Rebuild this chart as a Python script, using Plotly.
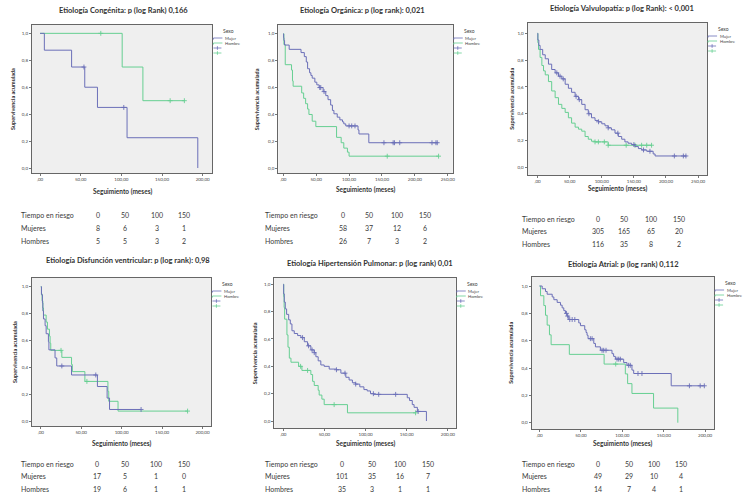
import numpy as np
import plotly.graph_objects as go

W, H = 750, 500
BLUE = "#6b6fb8"
GREEN = "#66cf92"
TXT = "#333333"
FONT = "Lato"

# ---------------- data ----------------
# 1. Congénita
cong_m_t = [0, 5.3, 38.8, 55, 70.6, 107, 194]
cong_m_s = [1.0, 0.875, 0.75, 0.6, 0.45, 0.225, 0.0]
cong_m_c = [54, 103]
cong_h_t = [0, 101, 126.5, 177.5]
cong_h_s = [1.0, 0.75, 0.5, 0.5]
cong_h_c = [74.7, 160, 177.5]

# 2. Orgánica
org_m_t = [0, 0.5, 1, 2, 9, 27, 32, 35, 37, 40, 42, 44, 48, 51, 54.5, 60.6, 64.6, 68, 72,
           74.7, 77, 82, 86, 90, 92, 95, 113.6, 115, 130, 234]
org_m_s = [1.0, 0.97, 0.95, 0.916, 0.884, 0.86, 0.83, 0.79, 0.74, 0.71, 0.69, 0.67, 0.64, 0.62,
           0.60, 0.57, 0.54, 0.51, 0.47, 0.43, 0.405, 0.38, 0.36, 0.345, 0.33, 0.315, 0.285,
           0.255, 0.19, 0.19]
org_m_c = [55.5, 57, 62, 100, 104, 109, 153, 167, 169, 177, 226, 232, 234]
org_h_t = [0, 1, 3, 12.6, 14, 15, 28, 31, 34, 37, 39, 44, 49.5, 81, 88, 92, 97.5, 100, 236]
org_h_s = [1.0, 0.92, 0.77, 0.73, 0.65, 0.61, 0.56, 0.52, 0.48, 0.44, 0.40, 0.35, 0.31, 0.23,
           0.19, 0.15, 0.12, 0.09, 0.09]
org_h_c = [158, 236]

# 3. Valvulopatía
val_m_t = [0, 0.5, 2, 4, 8, 12, 17, 22, 27.4, 32.6, 37.8, 43, 48, 53, 58.5, 63.7, 68.8, 74, 79,
           84, 89.5, 94.7, 100, 105, 110, 115, 120.6, 125.8, 131, 136, 141, 146.5, 151.7, 157,
           162, 170, 180, 183, 232]
val_m_s = [1.0, 0.95, 0.91, 0.88, 0.84, 0.81, 0.77, 0.73, 0.705, 0.68, 0.66, 0.62, 0.59, 0.56,
           0.53, 0.505, 0.47, 0.43, 0.40, 0.37, 0.35, 0.34, 0.325, 0.31, 0.295, 0.28, 0.255,
           0.23, 0.21, 0.19, 0.18, 0.17, 0.155, 0.14, 0.13, 0.12, 0.10, 0.085, 0.085]
val_m_c = [30, 35, 40, 60, 65, 80, 95, 110, 125, 150, 165, 175, 213, 227, 231]
val_h_t = [0, 0.5, 1.5, 4, 6.7, 9.3, 12, 17, 22, 27.4, 32.6, 37.8, 43, 48, 53, 58.5, 63.7,
           68.8, 74, 79, 84, 89.5, 110, 177.5]
val_h_s = [1.0, 0.93, 0.88, 0.82, 0.76, 0.72, 0.69, 0.64, 0.57, 0.52, 0.47, 0.44, 0.41, 0.37,
           0.33, 0.30, 0.285, 0.27, 0.23, 0.21, 0.195, 0.19, 0.165, 0.165]
val_h_c = [89.5, 94.7, 104, 110, 138, 151.7, 162, 170, 177.5]

# 4. Disfunción ventricular
dis_m_t = [0, 0.8, 2, 2.5, 3.3, 5.3, 6.6, 9.4, 10, 17.6, 19.7, 38, 70, 82, 85, 124]
dis_m_s = [1.0, 0.94, 0.88, 0.82, 0.76, 0.71, 0.65, 0.59, 0.53, 0.47, 0.41, 0.343, 0.257,
           0.171, 0.086, 0.086]
dis_m_c = [26, 68, 124]
dis_h_t = [0, 0.8, 1.6, 2.5, 3.3, 6.6, 8.2, 10.7, 11.5, 12.3, 26, 38, 39, 54.5, 83, 84, 95.5,
           181.5]
dis_h_s = [1.0, 0.947, 0.895, 0.842, 0.789, 0.737, 0.684, 0.632, 0.579, 0.526, 0.474, 0.421,
           0.368, 0.295, 0.221, 0.147, 0.074, 0.074]
dis_h_c = [25, 57, 181.5]

# 5. Hipertensión pulmonar
htp_m_t = [0, 0.4, 1.2, 2.4, 4, 6.5, 8.5, 10.5, 13.3, 17.4, 21.4, 25.5, 29.5, 33.5, 37.6,
           39.6, 42.4, 45.6, 49.7, 55.8, 64.6, 70, 76, 80, 84, 88, 93, 98, 102, 106, 110,
           150.7, 153.5, 156.8, 159, 163, 174]
htp_m_s = [1.0, 0.93, 0.87, 0.82, 0.78, 0.74, 0.71, 0.66, 0.64, 0.625, 0.61, 0.58, 0.55,
           0.52, 0.50, 0.47, 0.44, 0.41, 0.40, 0.38, 0.375, 0.35, 0.32, 0.30, 0.28, 0.27, 0.25,
           0.23, 0.22, 0.20, 0.195, 0.17, 0.15, 0.12, 0.10, 0.07, 0.0]
htp_m_c = [23.4, 30.7, 35, 37.6, 64.6, 75, 88, 109.5, 116, 136.6, 164]
htp_h_t = [0, 0.5, 1, 1.6, 4.4, 5.7, 7.3, 9.3, 18.6, 22.6, 33.5, 35.6, 37.6, 42.4, 43.6,
           46.9, 49.7, 78, 160.8]
htp_h_s = [1.0, 0.91, 0.83, 0.745, 0.63, 0.54, 0.46, 0.43, 0.40, 0.37, 0.34, 0.29, 0.26,
           0.225, 0.19, 0.16, 0.12, 0.06, 0.06]
htp_h_c = [21, 29.5, 61.8, 160.8]

# 6. Atrial
atr_m_t = [0, 3.2, 7.2, 9.2, 15.3, 17.3, 21.3, 25.3, 27.3, 29.3, 31.3, 33.3, 35.3, 47.4,
           49.4, 54.6, 56.2, 57.4, 58.6, 65.5, 67.5, 73.5, 87.5, 89.5, 91.6, 101.6, 105.6,
           111.6, 113.7, 159, 199]
atr_m_s = [1.0, 0.98, 0.96, 0.94, 0.92, 0.90, 0.88, 0.86, 0.84, 0.82, 0.80, 0.78, 0.755,
           0.73, 0.71, 0.68, 0.66, 0.64, 0.615, 0.58, 0.555, 0.53, 0.505, 0.485, 0.465, 0.44,
           0.42, 0.385, 0.36, 0.27, 0.27]
atr_m_c = [32.5, 34, 36.5, 39.4, 42.6, 61.4, 63.5, 75.5, 77.5, 80.3, 93.6, 95.6, 97.6,
           107.6, 109.6, 118.9, 123.7, 181, 194, 199]
atr_h_t = [0, 1.2, 5.2, 7.2, 9.2, 12, 14, 36, 78, 103.6, 106.4, 111.6, 137.7, 167]
atr_h_s = [1.0, 0.929, 0.857, 0.786, 0.714, 0.643, 0.571, 0.5, 0.429, 0.357, 0.286, 0.214,
           0.107, 0.0]
atr_h_c = [92]

titles = [
    "Etiología Congénita: p (log Rank) 0,166",
    "Etiología Orgánica: p (log rank): 0,021",
    "Etiología Valvulopatía: p (log Rank): < 0,001",
    "Etiología Disfunción ventricular: p (log rank): 0,98",
    "Etiología Hipertensión Pulmonar: p (log rank) 0,01",
    "Etiología Atrial: p (log rank) 0,112",
]

risk_times = ["0", "50", "100", "150"]
risk_m = [[8, 6, 3, 1], [58, 37, 12, 6], [305, 165, 65, 20],
          [17, 5, 1, 0], [101, 35, 16, 7], [49, 29, 10, 4]]
risk_h = [[5, 5, 3, 2], [26, 7, 3, 2], [116, 35, 8, 2],
          [19, 6, 1, 1], [35, 3, 1, 1], [14, 7, 4, 1]]

y_ticks = [0, 0.2, 0.4, 0.6, 0.8, 1.0]
y_tick_text = ["0,0", "0,2", "0,4", "0,6", "0,8", "1,0"]

curves = [
    (cong_m_t, cong_m_s, cong_m_c, cong_h_t, cong_h_s, cong_h_c),
    (org_m_t, org_m_s, org_m_c, org_h_t, org_h_s, org_h_c),
    (val_m_t, val_m_s, val_m_c, val_h_t, val_h_s, val_h_c),
    (dis_m_t, dis_m_s, dis_m_c, dis_h_t, dis_h_s, dis_h_c),
    (htp_m_t, htp_m_s, htp_m_c, htp_h_t, htp_h_s, htp_h_c),
    (atr_m_t, atr_m_s, atr_m_c, atr_h_t, atr_h_s, atr_h_c),
]

# ---------------- layout geometry (pixels) ----------------
boxes = [(32, 213, 25, 173), (279, 454, 25, 173), (529, 709, 23, 175),
         (32, 212, 278, 426), (275, 457, 278, 428), (533, 716, 277, 429)]
xranges = [(-10, 212), (-7.6, 257.6), (-15.5, 264), (-11, 211), (-11, 209.7), (-9.6, 210.8)]
yranges = [(-0.037, 1.062), (-0.035, 1.065), (-0.057, 1.077), (-0.037, 1.065),
           (-0.051, 1.046), (-0.046, 1.066)]
xmaxes = [200, 250, 250, 200, 200, 200]
title_pos = [(124, 10), (363, 10), (624, 8), (128, 260), (371, 263), (625, 264)]
xtitle_y = [191, 189, 188, 443, 443, 443]
ytitle_x = [13, 258, 513, 15, 256, 512]
table_pos = [
    (19, [98, 125, 157, 184], [215, 228, 241]),
    (264, [344, 370, 398, 426], [215, 228, 241]),
    (521, [600, 626, 653, 681], [219, 231, 244]),
    (19, [97, 125, 156, 184], [464, 476, 489]),
    (264, [343, 373, 401, 429], [464, 476, 489]),
    (521, [600, 631, 656, 683], [464, 476, 489]),
]


def px(x):
    return x / W


def py(y):
    return 1 - y / H


def surv_at(ts, ss, c):
    ts = np.asarray(ts, float)
    ss = np.asarray(ss, float)
    i = np.searchsorted(ts, np.asarray(c, float), side="right") - 1
    i = np.clip(i, 0, len(ss) - 1)
    return ss[i]


def note(x, y, text, size, xanchor="center", color="#333", angle=0):
    return dict(x=px(x), y=py(y), xref="paper", yref="paper", text=text, showarrow=False,
                xanchor=xanchor, yanchor="middle", textangle=angle,
                font=dict(size=size, color=color, family=FONT))


fig = go.Figure()
layout = dict(width=W, height=H, margin=dict(l=0, r=0, t=0, b=0), autosize=False,
              paper_bgcolor="white", plot_bgcolor="#efefef", showlegend=False,
              font=dict(family=FONT, color=TXT))
annotations = []
shapes = []

for k in range(6):
    n = "" if k == 0 else str(k + 1)
    xa, ya = "x" + n, "y" + n
    x0, x1, y0, y1 = boxes[k]
    xt = list(range(0, xmaxes[k] + 1, 50))
    xtt = [",00" if v == 0 else f"{v},00" for v in xt]
    axis_common = dict(showline=True, mirror=True, linecolor="#666", linewidth=1,
                       ticks="outside", ticklen=2, tickcolor="#777", tickwidth=0.6,
                       showgrid=False, zeroline=False, fixedrange=True,
                       tickfont=dict(size=4.5, color="#444", family=FONT))
    layout["xaxis" + n] = dict(domain=[px(x0), px(x1)], range=list(xranges[k]),
                               anchor=ya, tickvals=xt, ticktext=xtt, **axis_common)
    layout["yaxis" + n] = dict(domain=[py(y1), py(y0)], range=list(yranges[k]),
                               anchor=xa, tickvals=y_ticks, ticktext=y_tick_text,
                               **axis_common)

    mt, ms, mc, ht, hs, hc = curves[k]
    for t, s, c, col in ((ht, hs, hc, GREEN), (mt, ms, mc, BLUE)):
        fig.add_trace(go.Scatter(x=t, y=s, mode="lines", line=dict(color=col, width=1, shape="hv"),
                                 xaxis=xa, yaxis=ya, hoverinfo="skip"))
        cy = surv_at(t, s, c)
        cy = [s[-2] if (ci >= t[-1] and s[-1] == 0) else v for ci, v in zip(c, cy)]
        fig.add_trace(go.Scatter(x=c, y=cy, mode="markers",
                                 marker=dict(symbol="cross-thin", size=3.5,
                                             line=dict(color=col, width=0.9)),
                                 xaxis=xa, yaxis=ya, hoverinfo="skip"))

    tx, ty = title_pos[k]
    annotations.append(note(tx, ty, "<b>" + titles[k] + "</b>", 7.5))
    annotations.append(note((x0 + x1) / 2, xtitle_y[k], "<b>Seguimiento (meses)</b>", 6.5))
    annotations.append(note(ytitle_x[k], (y0 + y1) / 2, "<b>Supervivencia acumulada</b>", 5.5,
                            angle=-90))
    # legend
    R, T = x1, y0
    annotations.append(note(R + 9, T + 6, "Sexo", 5, xanchor="left", color="#444"))
    for j, (lab, col) in enumerate((("Mujer", BLUE), ("Hombre", GREEN))):
        yy = T + 13 + 5 * j
        shapes.append(dict(type="path", xref="paper", yref="paper",
                           path=f"M {px(R + 1)} {py(yy + 1.5)} L {px(R + 1)} {py(yy)} L {px(R + 10)} {py(yy)}",
                           line=dict(color=col, width=0.8)))
        annotations.append(note(R + 10.5, yy + 0.5, lab, 4.2, xanchor="left", color="#444"))
    for j, col in enumerate((BLUE, GREEN)):
        yy = T + 23 + 5 * j
        shapes.append(dict(type="line", xref="paper", yref="paper", x0=px(R + 1), x1=px(R + 9),
                           y0=py(yy), y1=py(yy), line=dict(color=col, width=0.8)))
        shapes.append(dict(type="line", xref="paper", yref="paper", x0=px(R + 5), x1=px(R + 5),
                           y0=py(yy - 1.8), y1=py(yy + 1.8), line=dict(color=col, width=0.8)))

    # risk table
    lx, cxs, rys = table_pos[k]
    rows = [("Tiempo en riesgo", risk_times), ("Mujeres", [str(v) for v in risk_m[k]]),
            ("Hombres", [str(v) for v in risk_h[k]])]
    for (lab, vals), ry in zip(rows, rys):
        annotations.append(note(lx, ry, lab, 7, xanchor="left", color="#3a3a3a"))
        for v, cx in zip(vals, cxs):
            annotations.append(note(cx, ry, v, 7, color="#3a3a3a"))

layout["annotations"] = annotations
layout["shapes"] = shapes
fig.update_layout(**layout)
fig.write_html("out.html", config={"displayModeBar": False},
               post_script="document.body.style.margin='0px';document.body.style.overflow='hidden';")
